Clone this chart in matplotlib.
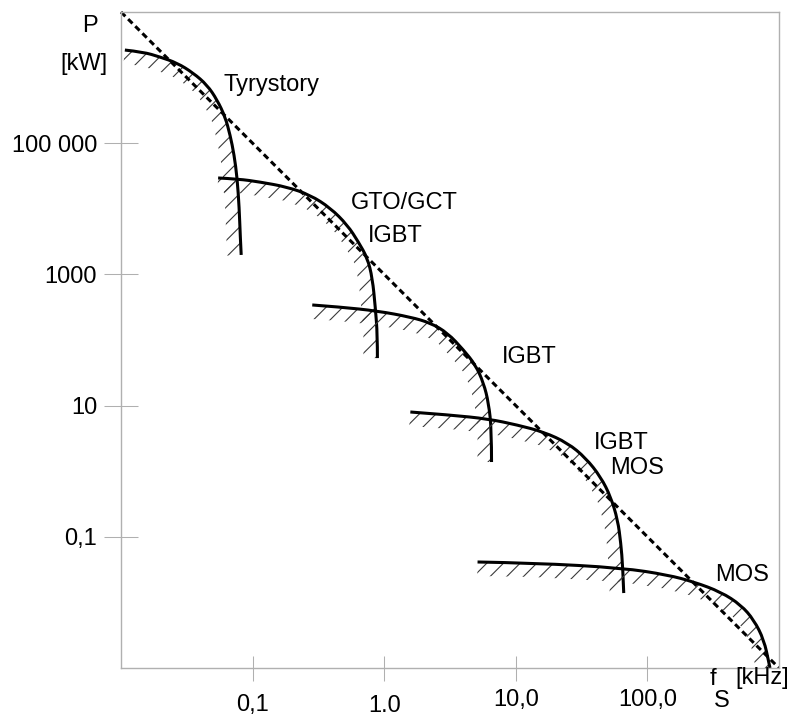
import numpy as np
import matplotlib
matplotlib.use("Agg")
import matplotlib.pyplot as plt
from matplotlib.patches import Polygon, PathPatch
from matplotlib.path import Path
from matplotlib.transforms import blended_transform_factory

plt.rcParams['font.family'] = ['Liberation Sans', 'DejaVu Sans']
plt.rcParams['hatch.linewidth'] = 0.8

# granice obszarow pracy: czestotliwosc f [kHz], moc P [kW]
tyr_f = [0.0107, 0.0147, 0.0198, 0.0267, 0.0353, 0.0451, 0.0538, 0.0619, 0.0675,
         0.0724, 0.0763, 0.0791, 0.0805, 0.0819]
tyr_p = [2.63e6, 2.46e6, 2.06e6, 1.67e6, 1.18e6, 7.72e5, 4.56e5, 2.51e5, 1.33e5,
         6.61e4, 2.95e4, 1.03e4, 3.99e3, 1.98e3]

gto_f = [0.0547, 0.0777, 0.114, 0.183, 0.274, 0.390, 0.525, 0.637, 0.745, 0.813,
         0.857, 0.888, 0.888]
gto_p = [2.95e4, 2.85e4, 2.56e4, 2.15e4, 1.62e4, 1.03e4, 5.66e3, 3.12e3, 1.78e3, 882,
         308, 119, 53]

igbt_f = [0.284, 0.464, 0.888, 1.58, 2.25, 3.03, 4.01, 4.94, 5.69, 6.21, 6.54, 6.54]
igbt_p = [342, 318, 277, 224, 182, 128, 70.4, 41.6, 22.1, 11.0, 4.25, 1.38]

igmos_f = [1.58, 3.19, 6.21, 10.3, 16.3, 24.8, 34.0, 44.2, 52.7, 59.5, 62.8, 65.0, 66.1]
igmos_p = [7.99, 7.19, 6.25, 5.06, 3.96, 2.69, 1.59, 0.816, 0.404, 0.180, 0.0804,
           0.0346, 0.0139]

mos_f = [5.12, 13.7, 65.0, 143, 226, 362, 514, 645, 769, 839, 854]
mos_p = [0.0413, 0.0399, 0.0335, 0.0262, 0.0205, 0.0144, 0.00913, 0.00539, 0.00267,
         0.00119, 0.001]

# linia przerywana (obwiednia)
obw_f = [0.01, 1000]
obw_p = [1e7, 1e-3]

x_ticks = [0.1, 1, 10, 100]
x_labels = ['0,1', '1.0', '10,0', '100,0']
y_ticks = [1e-1, 1e1, 1e3, 1e5]
y_labels = ['0,1', '10', '1000', '100 000']

krzywe = [(tyr_f, tyr_p), (gto_f, gto_p), (igbt_f, igbt_p),
          (igmos_f, igmos_p), (mos_f, mos_p)]

fig = plt.figure(figsize=(7.9, 7.18), dpi=100)
ax = fig.add_axes([121 / 790, 1 - 668 / 718, 658 / 790, 656 / 718])
ax.set_xscale('log')
ax.set_yscale('log')
ax.set_xlim(0.01, 1000)
ax.set_ylim(1e-3, 1e7)

szary = '#b0b0b0'
for s in ax.spines.values():
    s.set_color(szary)
    s.set_linewidth(1.0)


def kreskowanie(ax, f, p, szer=14):
    # pas kreskowany po wewnetrznej stronie krzywej
    pts = ax.transData.transform(np.column_stack([f, p]))
    d = np.gradient(pts, axis=0)
    d /= np.hypot(d[:, 0], d[:, 1])[:, None]
    n = np.column_stack([d[:, 1], -d[:, 0]])
    wew = pts + n * szer
    poly = ax.transData.inverted().transform(np.vstack([pts, wew[::-1]]))
    ax.add_patch(Polygon(poly, closed=True, fill=False, hatch='//',
                         edgecolor='#3a3a3a', linewidth=0))


def krzywa(ax, f, p):
    # gladka krzywa (Bezier 2. stopnia) przez odczytane punkty
    pts = ax.transData.transform(np.column_stack([f, p]))
    verts = [pts[0]]
    codes = [Path.MOVETO]
    for i in range(1, len(pts) - 1):
        koniec = pts[i + 1] if i == len(pts) - 2 else (pts[i] + pts[i + 1]) / 2
        verts += [pts[i], koniec]
        codes += [Path.CURVE3, Path.CURVE3]
    ax.add_patch(PathPatch(Path(ax.transData.inverted().transform(np.array(verts)), codes),
                           fill=False, edgecolor='black', lw=2.2, capstyle='butt'))


for f, p in krzywe:
    kreskowanie(ax, f, p)
    krzywa(ax, f, p)

ax.plot(obw_f, obw_p, color='black', lw=2.2, linestyle=(0, (2, 1.3)), clip_on=False)

ax.minorticks_off()
ax.set_yticks(y_ticks, y_labels)
ax.set_xticks(x_ticks, [''] * len(x_ticks))
ax.tick_params(axis='y', direction='inout', length=24.5, width=0.75, color=szary,
               pad=5, labelsize=17)
ax.tick_params(axis='x', direction='inout', length=18, width=0.75, color=szary)

tr = blended_transform_factory(ax.transData, fig.transFigure)
x_lab_y = [705, 706, 700, 700]
for xt, lab, py in zip(x_ticks, x_labels, x_lab_y):
    ax.text(xt, 1 - py / 718, lab, transform=tr, ha='center', va='center', fontsize=17)

# opisy
ax.text(0.0597, 7.7e5, 'Tyrystory', ha='left', va='center', fontsize=17)
ax.text(1.43, 1.22e4, 'GTO/GCT', ha='center', va='center', fontsize=17)
ax.text(1.22, 3.85e3, 'IGBT', ha='center', va='center', fontsize=17)
ax.text(12.7, 55, 'IGBT', ha='center', va='center', fontsize=17)
ax.text(62.8, 2.69, 'IGBT', ha='center', va='center', fontsize=17)
ax.text(83, 1.12, 'MOS', ha='center', va='center', fontsize=17)
ax.text(523, 0.0262, 'MOS', ha='center', va='center', fontsize=17)

fig.text(90 / 790, 1 - 26 / 718, 'P', ha='center', va='center', fontsize=17)
fig.text(84 / 790, 1 - 64 / 718, '[kW]', ha='center', va='center', fontsize=17)
fig.text(713 / 790, 1 - 679 / 718, 'f', ha='center', va='center', fontsize=17)
fig.text(722 / 790, 1 - 701 / 718, 'S', ha='center', va='center', fontsize=17)
fig.text(762 / 790, 1 - 678 / 718, '[kHz]', ha='center', va='center', fontsize=17)

fig.savefig('out.png', dpi=100)
